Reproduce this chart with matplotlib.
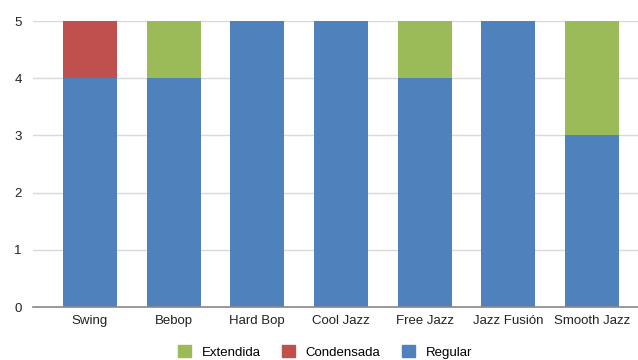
import matplotlib.pyplot as plt
import numpy as np
from matplotlib.patches import Patch

plt.rcParams['font.family'] = ['Liberation Sans', 'DejaVu Sans']

estilos = ['Swing', 'Bebop', 'Hard Bop', 'Cool Jazz', 'Free Jazz', 'Jazz Fusión', 'Smooth Jazz']
regular = [4, 4, 5, 5, 4, 5, 3]
condensada = [1, 0, 0, 0, 0, 0, 0]
extendida = [0, 1, 0, 0, 1, 0, 2]

azul = '#4F81BD'
rojo = '#C0504D'
verde = '#9BBB59'

fig = plt.figure(figsize=(6.38, 3.6), dpi=100)
ax = fig.add_axes([33/638, 53/360, 605/638, 286/360])

x = np.arange(len(estilos))
ancho = 0.645
base = np.array(regular)
ax.bar(x, regular, ancho, color=azul, zorder=3)
ax.bar(x, condensada, ancho, bottom=base, color=rojo, zorder=3)
base = base + np.array(condensada)
ax.bar(x, extendida, ancho, bottom=base, color=verde, zorder=3)

ax.set_xlim(-0.68, 6.55)
ax.set_ylim(0, 5)
ax.set_yticks(range(6))
ax.set_xticks(x)
ax.set_xticklabels(estilos)
ax.tick_params(length=0, labelsize=9.5, colors='#222222')
ax.tick_params(axis='y', pad=8)
ax.tick_params(axis='x', pad=6)
ax.grid(axis='y', color='#d9d9d9', linewidth=1, zorder=0)
for lado in ['top', 'right', 'left']:
    ax.spines[lado].set_visible(False)
ax.spines['bottom'].set_color('#888888')
ax.spines['bottom'].set_linewidth(1.2)
ax.spines['bottom'].set_zorder(4)

handles = [Patch(color=verde, label='Extendida'),
           Patch(color=rojo, label='Condensada'),
           Patch(color=azul, label='Regular')]
fig.legend(handles=handles, loc='center', bbox_to_anchor=(325/638, 1 - 352/360),
           ncol=3, frameon=False, fontsize=9.5, handlelength=1.0, handleheight=1.0,
           columnspacing=1.6, handletextpad=0.8)

fig.savefig('out.png', dpi=100)
